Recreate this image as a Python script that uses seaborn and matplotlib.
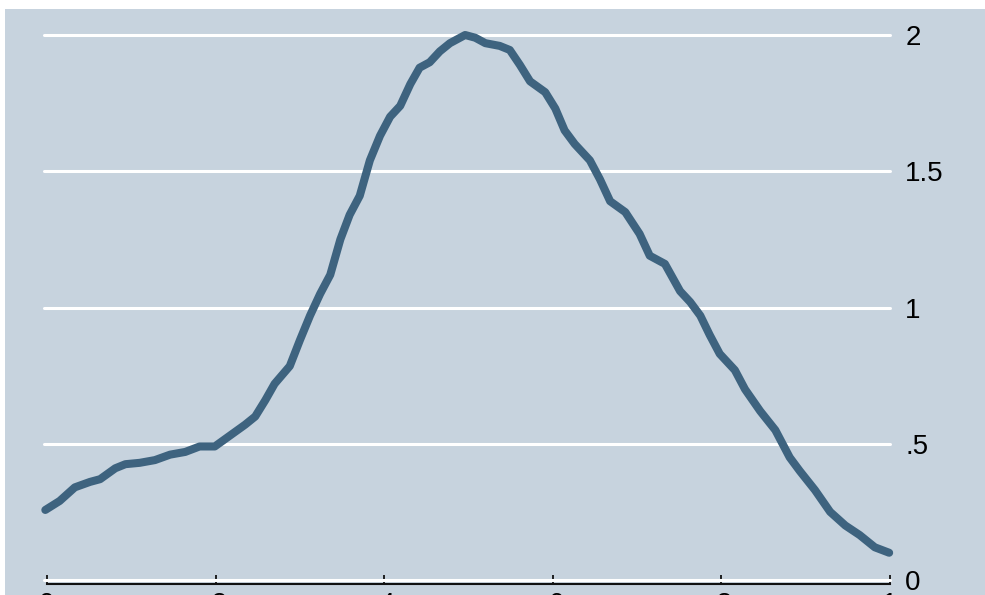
import matplotlib
matplotlib.use("Agg")
import matplotlib.pyplot as plt
from matplotlib.patches import Rectangle
import seaborn as sns
import pandas as pd

# Curve values (share on the x axis, density on the y axis)
x_vals = [-0.002, 0.015, 0.033, 0.051, 0.063, 0.081, 0.093, 0.110, 0.128, 0.146,
          0.164, 0.181, 0.199, 0.217, 0.235, 0.247, 0.259, 0.270, 0.288, 0.300,
          0.312, 0.324, 0.336, 0.348, 0.359, 0.371, 0.383, 0.395, 0.407, 0.419,
          0.431, 0.442, 0.454, 0.466, 0.478, 0.496, 0.508, 0.520, 0.537, 0.549,
          0.561, 0.573, 0.591, 0.603, 0.614, 0.626, 0.644, 0.656, 0.668, 0.686,
          0.703, 0.715, 0.733, 0.751, 0.763, 0.775, 0.786, 0.798, 0.816, 0.828,
          0.846, 0.864, 0.881, 0.893, 0.911, 0.929, 0.947, 0.964, 0.982, 0.999]
y_vals = [0.257, 0.29, 0.34, 0.36, 0.37, 0.41, 0.425, 0.43, 0.44, 0.46,
          0.47, 0.49, 0.49, 0.53, 0.57, 0.60, 0.66, 0.72, 0.785, 0.88,
          0.97, 1.05, 1.12, 1.25, 1.34, 1.41, 1.54, 1.63, 1.70, 1.74,
          1.82, 1.88, 1.90, 1.94, 1.97, 2.00, 1.99, 1.97, 1.96, 1.945,
          1.89, 1.83, 1.79, 1.73, 1.65, 1.60, 1.54, 1.47, 1.39, 1.35,
          1.27, 1.19, 1.16, 1.06, 1.02, 0.97, 0.90, 0.83, 0.77, 0.70,
          0.62, 0.55, 0.45, 0.40, 0.33, 0.25, 0.20, 0.165, 0.12, 0.10]

x_ticks = [0, 0.2, 0.4, 0.6, 0.8, 1.0]
x_ticklabels = ["0", ".2", ".4", ".6", ".8", "1"]
y_ticks = [0, 0.5, 1.0, 1.5, 2.0]
y_ticklabels = ["0", ".5", "1", "1.5", "2"]

bg = "#C7D3DE"
line_color = "#3E637F"

sns.set_theme(style="white")
plt.rcParams["font.family"] = ["Liberation Sans", "DejaVu Sans"]

W, H = 985, 595
fig = plt.figure(figsize=(W / 100, H / 100), dpi=100, facecolor="white")
fig.patches.append(Rectangle((5 / W, 0), 1, 1 - 9 / H, transform=fig.transFigure,
                             facecolor=bg, edgecolor="none", zorder=-10))

left, right = 47, 890
bottom, top = 580, 35
ax = fig.add_axes([left / W, (H - bottom) / H, (right - left) / W, (bottom - top) / H])
ax.set_facecolor("none")

df = pd.DataFrame({"x": x_vals, "y": y_vals})
sns.lineplot(data=df, x="x", y="y", ax=ax, color=line_color, linewidth=5.8,
             solid_capstyle="round", solid_joinstyle="round", clip_on=False, zorder=5)

ax.set_xlim(0, 1)
ax.set_ylim(0, 2)
ax.set_xlabel("")
ax.set_ylabel("")

# horizontal white grid
for yv in y_ticks:
    ax.axhline(yv, xmin=-0.004, xmax=1.0, color="white", linewidth=2.2, zorder=1, clip_on=False)

for s in ["top", "left", "right"]:
    ax.spines[s].set_visible(False)
ax.spines["bottom"].set_position(("outward", 3))
ax.spines["bottom"].set_color("#111111")
ax.spines["bottom"].set_linewidth(1.5)
ax.spines["bottom"].set_bounds(0, 1)

ax.set_xticks(x_ticks)
ax.set_xticklabels(x_ticklabels)
ax.tick_params(axis="x", direction="in", length=6.5, width=1.3, color="#111111",
               pad=6, labelsize=20, labelcolor="black", bottom=True)

ax.yaxis.tick_right()
ax.set_yticks(y_ticks)
ax.set_yticklabels(y_ticklabels)
ax.tick_params(axis="y", length=0, pad=11, labelsize=20, labelcolor="black")

fig.savefig("out.png", dpi=100, facecolor=fig.get_facecolor())
